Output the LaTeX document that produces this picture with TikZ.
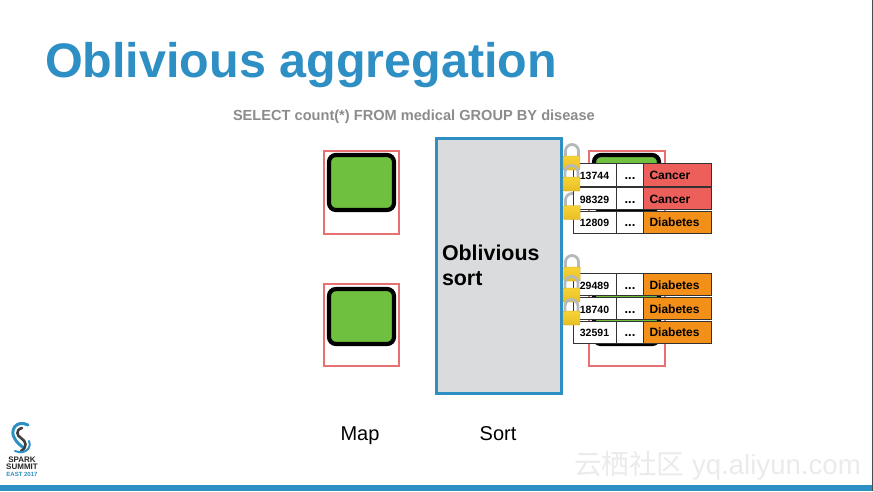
\documentclass[tikz,border=0pt]{standalone}
\usepackage{fontspec}
\setmainfont{Liberation Sans}
\newfontfamily\cjkfont{Noto Sans CJK SC}
\definecolor{titleblue}{HTML}{2E8FC4}
\definecolor{frameRed}{HTML}{E87070}
\definecolor{chipGreen}{HTML}{70C040}
\definecolor{sortGrey}{HTML}{D9DBDC}
\definecolor{labelRed}{HTML}{EC5F5B}
\definecolor{labelOrange}{HTML}{F39019}
\definecolor{goldLock}{HTML}{F6D335}
\definecolor{goldDark}{HTML}{E8BE26}
\definecolor{goldEdge}{HTML}{CFA820}
\definecolor{shackle}{HTML}{B4BABC}
\definecolor{sqlGrey}{HTML}{8C8C8C}
\definecolor{wmGrey}{HTML}{EBEBEB}
\tikzset{
  x=1pt,y=-1pt,
  txt/.style={inner sep=0pt,outer sep=0pt},
  framebox/.style={draw=frameRed,line width=2pt,fill=white},
  chip/.style={draw=black,line width=4.2pt,fill=chipGreen,rounded corners=7pt},
  cell/.style={draw=black!80,line width=1pt,inner sep=0pt,anchor=north west,text height=9pt,text depth=0pt},
  idcell/.style={cell,fill=white,minimum width=43pt,font=\bfseries\fontsize{10.5}{12}\selectfont,xshift=-.5pt},
  dotcell/.style={cell,fill=white,minimum width=27pt,font=\bfseries\fontsize{13}{12}\selectfont},
  tagcell/.style={cell,minimum width=68pt,text width=56pt,align=left,font=\bfseries\fontsize{12}{13}\selectfont},
}
% one row of a result table: name, top, height, id, label, colour
\newcommand{\resultrow}[6]{%
  \node[idcell,minimum height=#3pt] (#1id) at (573,#2) {#4};
  \node[dotcell,minimum height=#3pt] (#1dots) at (616,#2) {...};
  \node[tagcell,minimum height=#3pt,fill=#6] (#1tag) at (643,#2) {#5};
}
% padlock: shackle only, then body only, so a table can sit between them
\newcommand{\lockshackle}[2]{%
  \draw[shackle,line width=2.8pt] (#1-6.5,#2+1) -- (#1-6.5,#2-5) arc[start angle=180,end angle=0,radius=6.5pt] -- (#1+6.5,#2+1);
}
\newcommand{\lockbody}[2]{%
  \shade[top color=goldLock,bottom color=goldDark,draw=goldEdge,line width=.4pt,rounded corners=1pt] (#1-8.5,#2) rectangle (#1+8.5,#2+14);
}
\begin{document}
\begin{tikzpicture}
\useasboundingbox (0,0) rectangle (873,491);
\fill[white] (0,0) rectangle (873,491);

% heading and query
\node[txt,anchor=base west,text=titleblue,font=\bfseries\fontsize{48.5}{50}\selectfont] (title) at (45,77) {Oblivious aggregation};
\node[txt,anchor=base west,text=sqlGrey,font=\bfseries\fontsize{14.6}{16}\selectfont] (query) at (233,120) {SELECT count(*) FROM medical GROUP BY disease};

% map side
\draw[framebox] (324,151) rectangle (399,233.5);
\draw[chip] (329,155) rectangle (394,210);
\draw[framebox] (324,283.5) rectangle (399,366);
\draw[chip] (329,289) rectangle (394,344);

% reduce side, mostly covered by the tables
\draw[framebox] (589,151) rectangle (665,233);
\draw[chip] (594,155) rectangle (659,210);
\draw[framebox] (589,283.5) rectangle (665,366);
\draw[chip] (594,289) rectangle (659,344);

% sort stage
\node[draw=titleblue,line width=2.8pt,fill=sortGrey,minimum width=125pt,minimum height=255pt,inner sep=0pt,anchor=north west] (sortbox) at (435,136.8) {};
\node[txt,anchor=base west,font=\bfseries\fontsize{21.4}{25}\selectfont,align=left] (sorta) at (442,260) {Oblivious};
\node[txt,anchor=base west,font=\bfseries\fontsize{21.4}{25}\selectfont,align=left] (sortb) at (442,285) {sort};
\node[txt,anchor=base,font=\fontsize{20}{24}\selectfont] (maplabel) at (360,440) {Map};
\node[txt,anchor=base,font=\fontsize{20}{24}\selectfont] (sortlabel) at (498,440) {Sort};

% padlocks partly behind the tables
\lockshackle{572}{156}
\lockshackle{572}{205}
\lockshackle{572}{267}

% result tables
\resultrow{ra}{163}{22.5}{13744}{Cancer}{labelRed}
\resultrow{rb}{187}{22}{98329}{Cancer}{labelRed}
\resultrow{rc}{210.5}{22}{12809}{Diabetes}{labelOrange}
\resultrow{rd}{273}{22}{29489}{Diabetes}{labelOrange}
\resultrow{re}{297}{22}{18740}{Diabetes}{labelOrange}
\resultrow{rf}{320.5}{22}{32591}{Diabetes}{labelOrange}

% padlocks on top of the tables
\lockbody{571.5}{156}
\lockshackle{571.5}{177}
\lockbody{571.5}{177}
\lockbody{572}{205.5}
\lockbody{572}{267}
\lockshackle{571.5}{288}
\lockbody{571.5}{288}
\lockshackle{571.5}{311}
\lockbody{571.5}{311}

% conference logo
\draw[titleblue,line width=3pt,line cap=round] (28,425) .. controls (16,419) and (9,431) .. (15,439) .. controls (17,443) and (20,445) .. (24,448);
\draw[black!75,line width=2.6pt,line cap=round] (22,428) .. controls (15,430) and (17,436) .. (21,438) .. controls (26,441) and (28,447) .. (21,451);
\draw[titleblue,line width=2pt,line cap=round] (29,441) .. controls (32,448) and (25,455) .. (15,451);
\node[txt,anchor=base,font=\bfseries\fontsize{8}{8}\selectfont,text=black!85] (logoa) at (22,462) {SPARK};
\node[txt,anchor=base,font=\bfseries\fontsize{8}{8}\selectfont,text=black!85] (logob) at (22,469.5) {SUMMIT};
\node[txt,anchor=base,font=\bfseries\fontsize{6}{6}\selectfont,text=titleblue] (logoc) at (22,476.5) {EAST 2017};

% footer
\fill[titleblue] (0,485) rectangle (873,491);
\fill[black!70] (872.2,0) rectangle (873,491);
\node[txt,anchor=base west,text=wmGrey,font=\fontsize{27.6}{30}\selectfont] (wm) at (574,474) {{\cjkfont 云栖社区} yq.aliyun.com};
\end{tikzpicture}
\end{document}
